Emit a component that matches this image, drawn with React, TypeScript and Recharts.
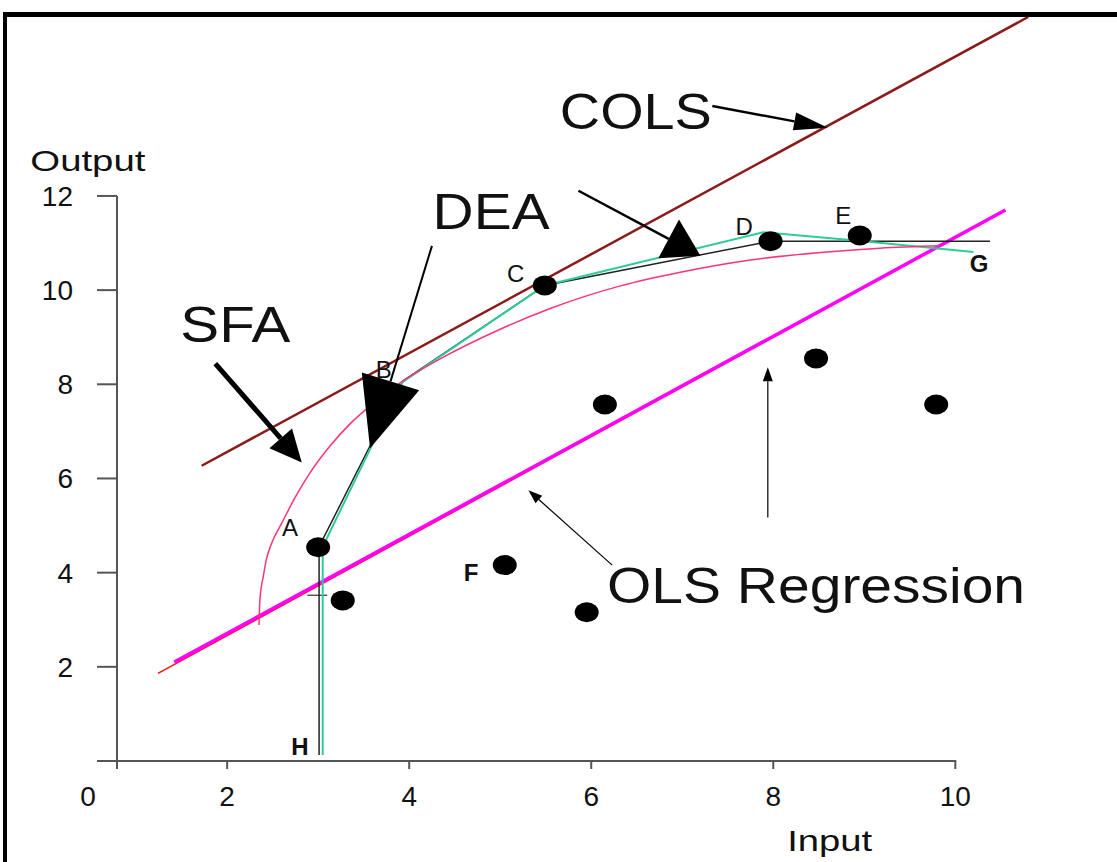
import { ComposedChart, Line, Scatter, XAxis, YAxis, ReferenceLine, ReferenceDot } from 'recharts';

// axis ticks
const xTicks = [0.79, 2, 4, 6, 8, 10];
const xTickLabels = ['0', '2', '4', '6', '8', '10'];
const yTicks = [0, 2, 4, 6, 8, 10, 12];
const yTickLabels = ['', '2', '4', '6', '8', '10', '12'];

// frontiers / regression lines
const colsLine = [
  { x: 1.72, y: 6.27 },
  { x: 10.8, y: 15.8 },
];
const olsRed = [
  { x: 1.24, y: 1.86 },
  { x: 10.55, y: 11.69 },
];
const olsMagenta = [
  { x: 1.42, y: 2.1 },
  { x: 10.55, y: 11.7 },
];
const deaBlack = [
  { x: 3.01, y: 0.13 },
  { x: 3.01, y: 4.55 },
  { x: 3.93, y: 8.07 },
  { x: 5.49, y: 10.1 },
  { x: 7.97, y: 11.04 },
  { x: 10.38, y: 11.04 },
];
const deaTeal = [
  { x: 3.05, y: 0.13 },
  { x: 3.05, y: 4.55 },
  { x: 3.93, y: 8.05 },
  { x: 5.49, y: 10.1 },
  { x: 7.89, y: 11.23 },
  { x: 8.88, y: 11.06 },
  { x: 10.2, y: 10.81 },
];
const sfaCurve = [
  { x: 2.35, y: 2.89 },
  { x: 2.36, y: 3.42 },
  { x: 2.4, y: 3.95 },
  { x: 2.43, y: 4.27 },
  { x: 2.49, y: 4.63 },
  { x: 2.6, y: 5.05 },
  { x: 2.75, y: 5.61 },
  { x: 2.91, y: 6.12 },
  { x: 3.13, y: 6.69 },
  { x: 3.35, y: 7.16 },
  { x: 3.63, y: 7.63 },
  { x: 3.9, y: 8.03 },
  { x: 4.34, y: 8.54 },
  { x: 5.0, y: 9.17 },
  { x: 5.55, y: 9.61 },
  { x: 6.32, y: 10.09 },
  { x: 6.98, y: 10.38 },
  { x: 7.75, y: 10.64 },
  { x: 8.52, y: 10.8 },
  { x: 9.17, y: 10.89 },
  { x: 9.83, y: 10.94 },
];

// observed firms
const firms = [
  { x: 3.0, y: 4.54 },
  { x: 5.49, y: 10.1 },
  { x: 7.97, y: 11.04 },
  { x: 8.95, y: 11.16 },
  { x: 3.27, y: 3.41 },
  { x: 5.05, y: 4.16 },
  { x: 5.95, y: 3.16 },
  { x: 6.15, y: 7.57 },
  { x: 8.47, y: 8.55 },
  { x: 9.79, y: 7.57 },
];

const pointLabels = [
  { text: 'A', x: 2.69, y: 4.77, bold: false },
  { text: 'B', x: 3.72, y: 8.14, bold: false },
  { text: 'C', x: 5.17, y: 10.18, bold: false },
  { text: 'D', x: 7.68, y: 11.16, bold: false },
  { text: 'E', x: 8.77, y: 11.41, bold: false },
  { text: 'F', x: 4.68, y: 3.82, bold: true },
  { text: 'G', x: 10.26, y: 10.39, bold: true },
  { text: 'H', x: 2.8, y: 0.13, bold: true },
];

const bigLabels = [
  { text: 'COLS', x: 6.49, y: 13.43, width: 152 },
  { text: 'DEA', x: 4.9, y: 11.3, width: 117 },
  { text: 'SFA', x: 2.09, y: 8.89, width: 110 },
  { text: 'OLS Regression', x: 8.47, y: 3.35, width: 418 },
];

const axisTitles = [
  { text: 'Output', x: 0.47, y: 12.53, width: 115 },
  { text: 'Input', x: 8.62, y: -1.91, width: 85 },
];

const arrows = [
  { from: [7.33, 13.91], to: [8.6, 13.45], head: 34, half: 9, width: 2.5 },
  { from: [4.25, 10.94], to: [3.57, 6.64], head: 70, half: 30, width: 2 },
  { from: [5.86, 12.11], to: [7.2, 10.73], head: 36, half: 22, width: 2.5 },
  { from: [1.87, 8.44], to: [2.82, 6.34], head: 32, half: 15, width: 5 },
  { from: [6.23, 4.16], to: [5.31, 5.75], head: 14, half: 5, width: 1.2 },
  { from: [7.94, 5.17], to: [7.94, 8.36], head: 14, half: 5, width: 1.2 },
];

const FONT = '"Liberation Sans", Arial, sans-serif';
const AXIS = '#555';

function arrowShape(head: number, half: number, width: number) {
  return (p: any) => {
    const { x1, y1, x2, y2 } = p;
    const dx = x2 - x1;
    const dy = y2 - y1;
    const len = Math.hypot(dx, dy) || 1;
    const ux = dx / len;
    const uy = dy / len;
    const bx = x2 - ux * head;
    const by = y2 - uy * head;
    const pts = `${x2},${y2} ${bx - uy * half},${by + ux * half} ${bx + uy * half},${by - ux * half}`;
    return (
      <g>
        <line x1={x1} y1={y1} x2={bx} y2={by} stroke="#000" strokeWidth={width} />
        <polygon points={pts} fill="#000" />
      </g>
    );
  };
}

function textShape(text: string, size: number, bold: boolean, width?: number) {
  return (p: any) => (
    <text
      x={p.cx}
      y={p.cy}
      textAnchor="middle"
      fontFamily={FONT}
      fontSize={size}
      fontWeight={bold ? 'bold' : 'normal'}
      fill="#111"
      textLength={width}
      lengthAdjust={width ? 'spacingAndGlyphs' : undefined}
    >
      {text}
    </text>
  );
}

function XTick(props: any) {
  const { x, y, payload, index } = props;
  const shift = index === 0 ? -29 : 0;
  return (
    <text x={x + shift} y={y} dy="0.71em" textAnchor="middle" fontFamily={FONT} fontSize={28} fill="#111">
      {xTickLabels[index] ?? payload.value}
    </text>
  );
}

function Firm(props: any) {
  return <ellipse cx={props.cx} cy={props.cy} rx={12} ry={10} fill="#000" />;
}

export default function App() {
  return (
    <div style={{ position: 'absolute', left: 0, top: 0, width: 1117, height: 862, overflow: 'hidden', background: '#fff' }}>
      <div
        style={{
          position: 'absolute',
          left: 3,
          top: 12,
          width: 1200,
          height: 1000,
          borderTop: '5px solid #000',
          borderLeft: '4px solid #000',
        }}
      />
      <div style={{ position: 'absolute', left: 0, top: 0 }}>
        <ComposedChart width={1117} height={862} margin={{ top: 17, right: 57, bottom: 61, left: 57 }}>
          <XAxis
            type="number"
            dataKey="x"
            domain={[0.79, 11.15]}
            allowDataOverflow
            ticks={xTicks}
            interval={0}
            height={40}
            axisLine={false}
            tickLine={{ stroke: AXIS, strokeWidth: 2 }}
            tickSize={8}
            tickMargin={17}
            tick={<XTick />}
          />
          <YAxis
            type="number"
            dataKey="y"
            domain={[0, 15.8]}
            allowDataOverflow
            ticks={yTicks}
            interval={0}
            width={60}
            axisLine={false}
            tickLine={{ stroke: AXIS, strokeWidth: 2 }}
            tickSize={20}
            tickMargin={24}
            tickFormatter={(v: number) => yTickLabels[yTicks.indexOf(v)] ?? String(v)}
            tick={{ fontFamily: FONT, fontSize: 28, fill: '#111' }}
          />
          <ReferenceLine segment={[{ x: 0.79, y: 0 }, { x: 0.79, y: 12 }]} stroke={AXIS} strokeWidth={2} ifOverflow="visible" />
          <ReferenceLine segment={[{ x: 0.79, y: 0 }, { x: 10.01, y: 0 }]} stroke={AXIS} strokeWidth={2} ifOverflow="visible" />
          <ReferenceLine segment={[{ x: 2.88, y: 3.52 }, { x: 3.1, y: 3.52 }]} stroke="#333" strokeWidth={1.2} ifOverflow="visible" />

          <Line data={colsLine} dataKey="y" type="linear" stroke="#8b1a1a" strokeWidth={2.5} dot={false} isAnimationActive={false} />
          <Line data={olsRed} dataKey="y" type="linear" stroke="#ff1010" strokeWidth={1.5} dot={false} isAnimationActive={false} />
          <Line data={olsMagenta} dataKey="y" type="linear" stroke="#ff00ff" strokeWidth={3.5} dot={false} isAnimationActive={false} />
          <Line data={deaBlack} dataKey="y" type="linear" stroke="#222" strokeWidth={1.5} dot={false} isAnimationActive={false} />
          <Line data={deaTeal} dataKey="y" type="linear" stroke="#2ecc9a" strokeWidth={2} dot={false} isAnimationActive={false} />
          <Line data={sfaCurve} dataKey="y" type="monotone" stroke="#ff3377" strokeWidth={1.5} dot={false} isAnimationActive={false} />
          <Scatter data={firms} dataKey="y" shape={<Firm />} isAnimationActive={false} />

          {arrows.map((a, i) => (
            <ReferenceLine
              key={'a' + i}
              segment={[{ x: a.from[0], y: a.from[1] }, { x: a.to[0], y: a.to[1] }]}
              ifOverflow="visible"
              shape={arrowShape(a.head, a.half, a.width)}
            />
          ))}
          {pointLabels.map((l) => (
            <ReferenceDot key={l.text} x={l.x} y={l.y} ifOverflow="visible" shape={textShape(l.text, 24, l.bold)} />
          ))}
          {bigLabels.map((l) => (
            <ReferenceDot key={l.text} x={l.x} y={l.y} ifOverflow="visible" shape={textShape(l.text, 50, false, l.width)} />
          ))}
          {axisTitles.map((l) => (
            <ReferenceDot key={l.text} x={l.x} y={l.y} ifOverflow="visible" shape={textShape(l.text, 30, false, l.width)} />
          ))}
        </ComposedChart>
      </div>
    </div>
  );
}
